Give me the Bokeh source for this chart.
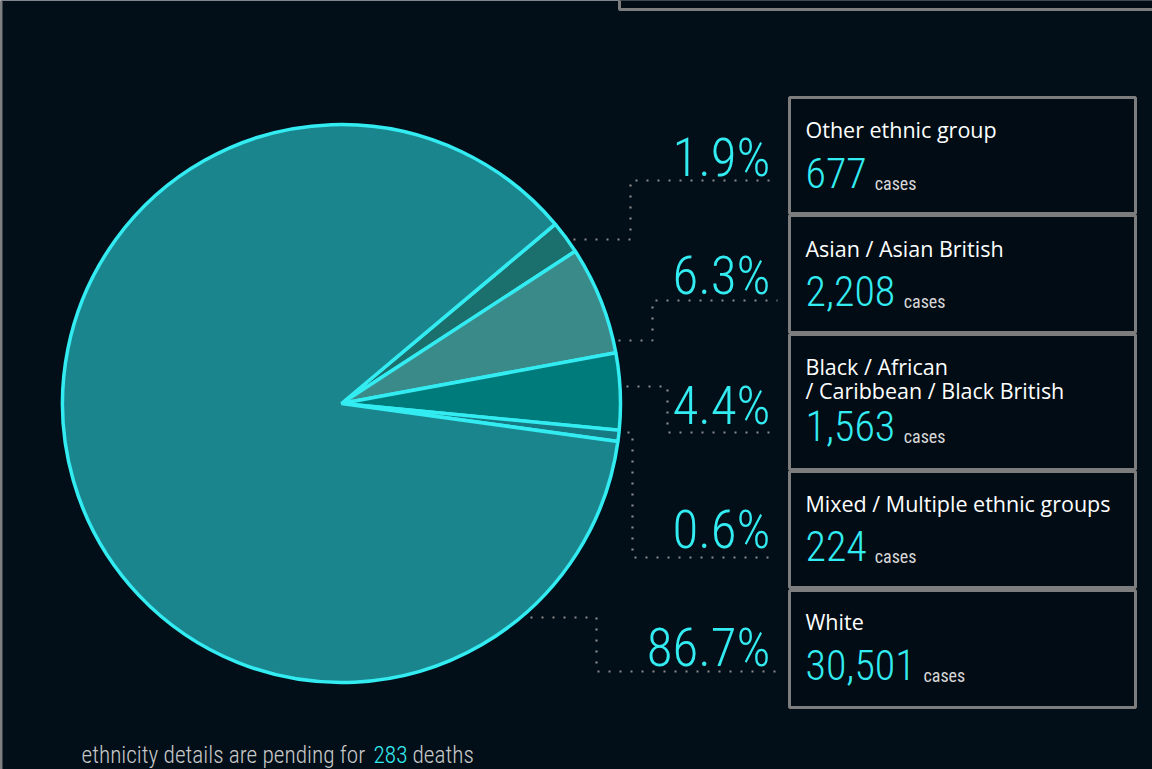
import math
from bokeh.plotting import figure
from bokeh.models import ColumnDataSource, Range1d
from bokeh.core.properties import value
from bokeh.embed import file_html
from bokeh.resources import INLINE

# ---------------- data ----------------
categories = ["Other ethnic group", "Asian / Asian British",
              "Black / African\n/ Caribbean / Black British",
              "Mixed / Multiple ethnic groups", "White"]
cases = [677, 2208, 1563, 224, 30501]
pct_labels = ["1.9%", "6.3%", "4.4%", "0.6%", "86.7%"]
pending_deaths = 283

# ---------------- style / layout ----------------
BG = "#020f19"
BOX_FILL = "#010c15"
GRAY = "#7d7d7d"
CYAN = "#33ecf2"
COND = "Roboto Condensed Light, Roboto Condensed, DejaVu Sans Condensed, Roboto"
COND_REG = "Roboto Condensed, DejaVu Sans Condensed, Roboto"
slice_colors = ["#1b6f6d", "#3b8a8a", "#007b7b", "#177a83", "#1a858d"]
START_DEG = 40.0
CX, CY_REF, R = 341, 403, 279
W, H = 1152, 769  # reference size; y = H - ref_y


def Y(ref_y):
    return H - ref_y


p = figure(width=W, height=H, x_range=Range1d(0, W), y_range=Range1d(0, H),
           output_backend="svg", toolbar_location=None, min_border=0)
p.min_border_left = p.min_border_right = p.min_border_top = p.min_border_bottom = 0
p.axis.visible = False
p.grid.visible = False
p.outline_line_color = None
p.background_fill_color = BG
p.border_fill_color = BG

# left frame edge and top-right partial box (continuation of the infographic)
p.quad(left=[-10], right=[2], top=[Y(-10)], bottom=[Y(780)], fill_color=GRAY,
       line_color=None)
p.quad(left=[619], right=[1170], top=[Y(-20)], bottom=[Y(9)], fill_color=BOX_FILL,
       line_color=GRAY, line_width=3)

# ---------------- pie ----------------
total = sum(cases)
starts, ends = [], []
a = math.radians(START_DEG)
for c in cases:
    span = 2 * math.pi * c / total
    starts.append(a)
    ends.append(a - span)
    a -= span
src = ColumnDataSource(dict(start=starts, end=ends, color=slice_colors, cat=categories))
p.wedge(x=CX, y=Y(CY_REF), radius=R, start_angle="start", end_angle="end",
        direction="clock", fill_color="color", line_color=CYAN, line_width=3.5, source=src)

# ---------------- leader lines (layout) ----------------
leaders = [
    ([573, 630, 630, 777], [239, 239, 180, 180]),
    ([618, 652, 652, 777], [340, 340, 300, 300]),
    ([626, 667, 667, 777], [386, 386, 432, 432]),
    ([627, 632, 632, 777], [432, 432, 557, 557]),
    ([530, 596, 596, 777], [617, 617, 671, 671]),
]
for xs, ys in leaders:
    p.line(x=xs, y=[Y(v) for v in ys], line_color="#8a8a8a", line_width=2.2,
           line_dash="2 9", line_cap="butt")

# ---------------- percentage labels (y = visual centre of digits) ----------------
pct_centres = [157, 275, 405, 529, 647]
p.text(x=[770] * 5, y=[Y(v) for v in pct_centres], text=pct_labels,
       text_align="right", text_baseline="alphabetic",
       text_font=value(COND), text_font_size=value("53px"),
       text_color=CYAN)

# ---------------- boxes ----------------
box_tops = [97, 215, 334, 471, 590]
box_bottoms = [213, 332, 469, 587, 707]
p.quad(left=[789] * 5, right=[1135] * 5, top=[Y(v) for v in box_tops],
       bottom=[Y(v) for v in box_bottoms], fill_color=BOX_FILL,
       line_color=GRAY, line_width=3)

label_centres = [129, 248, 366, 503, 621]
lx, ly, lt = [], [], []
for cat, c in zip(categories, label_centres):
    for i, line in enumerate(cat.split("\n")):
        lx.append(805)
        ly.append(Y(c + i * 24))
        lt.append(line)
p.text(x=lx, y=ly, text=lt, text_align="left", text_baseline="alphabetic",
       text_font=value("Open Sans"), text_font_size=value("21.5px"), text_color="#ffffff")

count_centres = [172, 290, 425, 545, 664]
count_txt = [f"{c:,}" for c in cases]
NUM_PX = 42
p.text(x=[805] * 5, y=[Y(v) for v in count_centres], text=count_txt,
       text_align="left", text_baseline="alphabetic",
       text_font=value(COND), text_font_size=value(f"{NUM_PX}px"),
       text_color=CYAN)
case_x = [805 + NUM_PX * (0.47 * sum(ch.isdigit() for ch in t) + 0.22 * t.count(",")) + 10
          for t in count_txt]
p.text(x=case_x, y=[Y(v + 11) for v in count_centres], text=["cases"] * 5,
       text_align="left", text_baseline="alphabetic",
       text_font=value(COND_REG), text_font_size=value("18px"),
       text_color="#d8d8d8")

# ---------------- footnote ----------------
FOOT_Y = Y(754)
FOOT_PX = "23.3px"
p.text(x=[81], y=[FOOT_Y], text=["ethnicity details are pending for"],
       text_align="left", text_baseline="alphabetic",
       text_font=value(COND), text_font_size=value(FOOT_PX),
       text_color="#c8c8c8")
p.text(x=[373], y=[FOOT_Y], text=[str(pending_deaths)],
       text_align="left", text_baseline="alphabetic",
       text_font=value(COND), text_font_size=value(FOOT_PX),
       text_color=CYAN)
p.text(x=[412], y=[FOOT_Y], text=["deaths"],
       text_align="left", text_baseline="alphabetic",
       text_font=value(COND), text_font_size=value(FOOT_PX),
       text_color="#c8c8c8")

open("out.html", "w").write(file_html(p, INLINE))
